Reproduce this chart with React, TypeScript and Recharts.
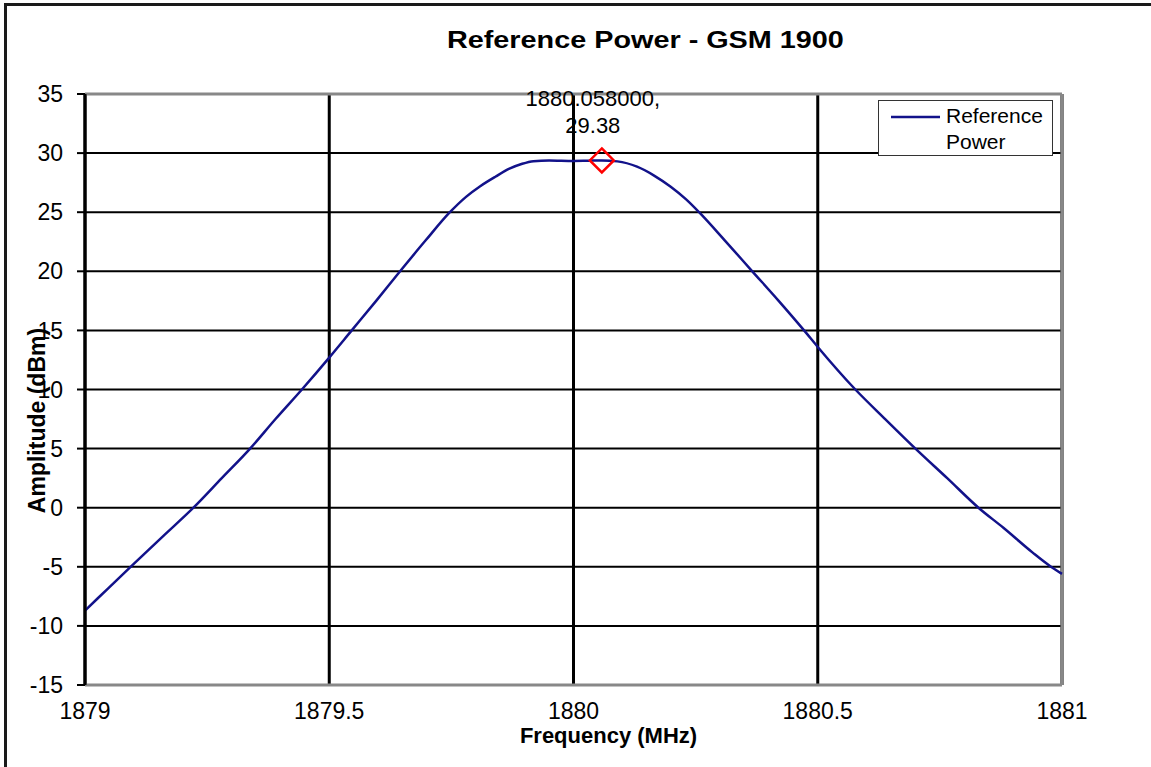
import React from 'react';
import {
  LineChart,
  Line,
  XAxis,
  YAxis,
  CartesianGrid,
  ReferenceLine,
  ReferenceDot,
} from 'recharts';

const FONT = "'Liberation Sans', Arial, sans-serif";

// frequency (MHz) and amplitude (dBm)
const FREQ = [
  1879.0, 1879.048, 1879.096, 1879.16, 1879.222, 1879.28, 1879.338, 1879.39, 1879.444, 1879.5,
  1879.546, 1879.596, 1879.645, 1879.697, 1879.747, 1879.78, 1879.809, 1879.84, 1879.87, 1879.895,
  1879.918, 1879.95, 1880.0, 1880.03, 1880.058, 1880.09, 1880.13, 1880.165, 1880.199, 1880.23,
  1880.257, 1880.31, 1880.366, 1880.42, 1880.472, 1880.5, 1880.577, 1880.638, 1880.7, 1880.765,
  1880.829, 1880.88, 1880.94, 1880.976, 1881.0,
];
const AMP = [
  -8.7, -6.8, -4.9, -2.4, 0, 2.5, 5, 7.5, 10, 12.7,
  15, 17.5, 20, 22.6, 25, 26.3, 27.2, 28.0, 28.7, 29.1,
  29.32, 29.38, 29.34, 29.36, 29.38, 29.3, 28.85, 28.1, 27.15, 26.1,
  25, 22.6, 20, 17.5, 15, 13.6, 10, 7.5, 5, 2.5,
  0, -1.7, -3.8, -4.95, -5.6,
];

const X_TICKS = [1879, 1879.5, 1880, 1880.5, 1881];
const Y_TICKS = [-15, -10, -5, 0, 5, 10, 15, 20, 25, 30, 35];

const SERIES_NAME = 'Reference Power';
const PEAK_FREQ = 1880.058;
const PEAK_AMP = 29.38;
const PEAK_LINES = ['1880.058000,', '29.38'];

const TITLE = 'Reference Power - GSM 1900';
const X_TITLE = 'Frequency (MHz)';
const Y_TITLE = 'Amplitude (dBm)';

const data = FREQ.map((f, i) => ({ f, amp: AMP[i] }));

const Diamond = (props: any) => {
  const { cx, cy } = props;
  if (cx == null || cy == null) return null;
  const s = 12;
  return (
    <path
      d={`M${cx},${cy - s}L${cx + s},${cy}L${cx},${cy + s}L${cx - s},${cy}Z`}
      fill="none"
      stroke="#ff0000"
      strokeWidth={2.5}
    />
  );
};

const peakLabel = (props: any) => {
  const vb = props.viewBox || {};
  const cx = vb.x + vb.width / 2;
  const cy = vb.y + vb.height / 2;
  return (
    <text x={cx - 9} y={cy} textAnchor="middle" fontFamily={FONT} fontSize={22} fill="#000">
      <tspan x={cx - 9} dy={-54}>{PEAK_LINES[0]}</tspan>
      <tspan x={cx - 9} dy={27}>{PEAK_LINES[1]}</tspan>
    </text>
  );
};

const xTitle = (props: any) => {
  const vb = props.viewBox;
  return (
    <text x={vb.x + vb.width / 2 + 35} y={vb.y + 58} textAnchor="middle" fontFamily={FONT} fontWeight="bold" fontSize={22} fill="#000">
      {X_TITLE}
    </text>
  );
};

const yTitle = (props: any) => {
  const vb = props.viewBox;
  const x = vb.x + 45;
  const y = vb.y + vb.height / 2 + 31;
  return (
    <text x={x} y={y} transform={`rotate(-90, ${x}, ${y})`} textAnchor="middle" fontFamily={FONT} fontWeight="bold" fontSize={23} fill="#000">
      {Y_TITLE}
    </text>
  );
};

const LegendBox = () => (
  <div
    style={{
      position: 'absolute',
      left: 878,
      top: 100,
      width: 175,
      height: 56,
      boxSizing: 'border-box',
      border: '1.5px solid #333',
      background: '#fff',
      fontFamily: FONT,
      fontSize: 21,
      color: '#000',
    }}
  >
    <svg width={56} height={10} style={{ position: 'absolute', left: 10, top: 11 }}>
      <line x1={2} y1={5} x2={51} y2={5} stroke="#12128a" strokeWidth={2.5} />
    </svg>
    <div style={{ position: 'absolute', left: 67, top: 2, lineHeight: '26px' }}>
      {SERIES_NAME.split(' ').map((w) => (
        <div key={w}>{w}</div>
      ))}
    </div>
  </div>
);

export default function App() {
  return (
    <div style={{ position: 'absolute', left: 0, top: 0, width: 1151, height: 767, overflow: 'hidden', background: '#fff' }}>
      <div style={{ position: 'absolute', left: 4, top: 3, width: 1300, height: 1000, border: '3px solid #1a1a1a' }} />
      <div
        style={{
          position: 'absolute',
          left: 345,
          top: 26,
          width: 600,
          textAlign: 'center',
          fontFamily: FONT,
          fontWeight: 'bold',
          fontSize: 24,
          lineHeight: '28px',
          color: '#000',
        }}
      >
        <span style={{ display: 'inline-block', transform: 'scaleX(1.2)' }}>{TITLE}</span>
      </div>
      <div style={{ position: 'absolute', left: 0, top: 0 }}>
        <LineChart width={1151} height={767} data={data} margin={{ top: 94, right: 89, bottom: 42, left: 0 }}>
          <CartesianGrid horizontal={false} stroke="#000" strokeWidth={3} />
          <CartesianGrid vertical={false} stroke="#000" strokeWidth={2} />
          <XAxis
            dataKey="f"
            type="number"
            domain={[1879, 1881]}
            ticks={X_TICKS}
            interval={0}
            height={40}
            tickLine={false}
            tickSize={0}
            tickMargin={18}
            axisLine={{ stroke: '#888', strokeWidth: 3 }}
            tick={{ fill: '#000', fontSize: 23, fontFamily: FONT }}
            label={{ content: xTitle }}
          />
          <YAxis
            type="number"
            domain={[-15, 35]}
            ticks={Y_TICKS}
            interval={0}
            width={85}
            tickSize={8}
            tickMargin={14}
            tickLine={{ stroke: '#000', strokeWidth: 2 }}
            axisLine={{ stroke: '#000', strokeWidth: 3 }}
            tick={{ fill: '#000', fontSize: 23, fontFamily: FONT }}
            label={{ content: yTitle }}
          />
          <ReferenceLine y={35} stroke="#888" strokeWidth={3} />
          <ReferenceLine x={1881} stroke="#888" strokeWidth={3} />
          <Line
            type="monotone"
            dataKey="amp"
            name={SERIES_NAME}
            stroke="#12128a"
            strokeWidth={2.5}
            dot={false}
            activeDot={false}
            isAnimationActive={false}
          />
          <ReferenceDot x={PEAK_FREQ} y={PEAK_AMP} r={12} shape={Diamond} label={{ content: peakLabel }} />
        </LineChart>
      </div>
      <LegendBox />
    </div>
  );
}
